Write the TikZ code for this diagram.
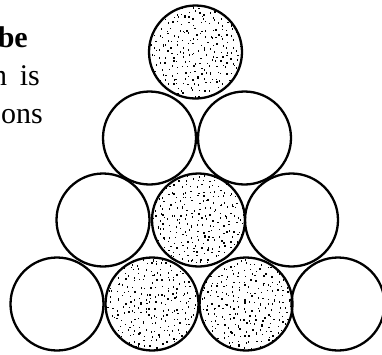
\documentclass[tikz,border=0pt]{standalone}
\usepackage{fontspec}
\setmainfont{Liberation Serif}
\tikzset{
  ball/.style={circle, draw=black, line width=2.3pt, minimum size=93pt, inner sep=0pt},
  txt/.style={anchor=base east, inner sep=0pt, font=\fontsize{30}{36}\selectfont}
}
\newcommand\stipdots[2]{%
  \begin{scope}
    \clip (#1,#2) circle (46);
    \foreach \gx in {-48,-42.5,...,48}{%
      \foreach \gy in {-48,-42.5,...,48}{%
        \pgfmathsetmacro\px{#1+\gx+rnd*5}%
        \pgfmathsetmacro\py{#2+\gy+rnd*5}%
        \pgfmathsetmacro\dw{0.9+rnd*0.8}%
        \pgfmathsetmacro\dh{0.9+rnd*1.4}%
        \fill[black] (\px,\py) rectangle ++(\dw,\dh);
      }
    }
  \end{scope}}
\begin{document}
\begin{tikzpicture}[x=1pt,y=-1pt]
  \pgfmathsetseed{7}
  \useasboundingbox (0,0) rectangle (382,354);
  \fill[white] (0,0) rectangle (382,354);
  \clip (0,0) rectangle (382,354);
  % text fragments
  \node[txt] (t1) at (28,47) {\bfseries be};
  \node[txt] (t2) at (40,85) {n\hspace{0.42em}is};
  \node[txt] (t3) at (43,123) {ons};
  % stipple
  \stipdots{195.5}{52}
  \stipdots{198.5}{220}
  \stipdots{152}{304}
  \stipdots{246}{304}
  % circles
  \node[ball] (r1a) at (195.5,52) {};
  \node[ball] (r2a) at (149.5,138) {};
  \node[ball] (r2b) at (244.5,138) {};
  \node[ball] (r3a) at (103,220) {};
  \node[ball] (r3b) at (198.5,220) {};
  \node[ball] (r3c) at (291.5,220) {};
  \node[ball] (r4a) at (57,304) {};
  \node[ball] (r4b) at (152,304) {};
  \node[ball] (r4c) at (246,304) {};
  \node[ball] (r4d) at (338,304) {};
\end{tikzpicture}
\end{document}
